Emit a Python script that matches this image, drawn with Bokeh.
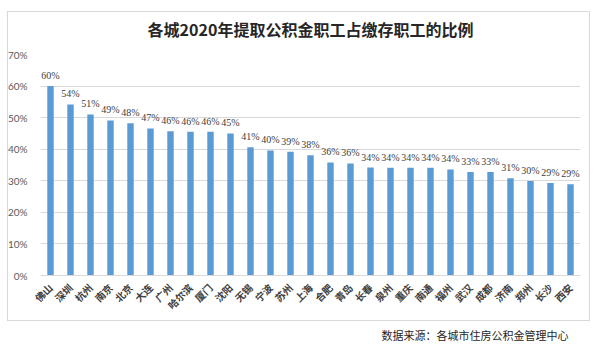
import math
from bokeh.plotting import figure
from bokeh.models import ColumnDataSource, Range1d, FactorRange, Title, NumeralTickFormatter, FixedTicker, LabelSet, InlineStyleSheet
from bokeh.embed import file_html
from bokeh.resources import INLINE

cities = ["佛山", "深圳", "杭州", "南京", "北京", "大连", "广州", "哈尔滨", "厦门", "沈阳",
          "无锡", "宁波", "苏州", "上海", "合肥", "青岛", "长春", "泉州", "重庆", "南通",
          "福州", "武汉", "成都", "济南", "郑州", "长沙", "西安"]
ratios = [0.600, 0.542, 0.510, 0.491, 0.482, 0.466, 0.457, 0.455, 0.455, 0.450,
          0.406, 0.396, 0.392, 0.381, 0.358, 0.355, 0.342, 0.341, 0.341, 0.341,
          0.336, 0.328, 0.328, 0.308, 0.299, 0.293, 0.289]
value_labels = ["60%", "54%", "51%", "49%", "48%", "47%", "46%", "46%", "46%", "45%",
                "41%", "40%", "39%", "38%", "36%", "36%", "34%", "34%", "34%", "34%",
                "34%", "33%", "33%", "31%", "30%", "29%", "29%"]
y_ticks = [0, 0.1, 0.2, 0.3, 0.4, 0.5, 0.6, 0.7]
title_text = "各城2020年提取公积金职工占缴存职工的比例"
source_text = "数据来源：各城市住房公积金管理中心"

src = ColumnDataSource(dict(city=cities, ratio=ratios, lab=value_labels))

p = figure(width=600, height=347, x_range=FactorRange(factors=cities, range_padding=0),
           y_range=Range1d(0, 0.7), output_backend="svg", toolbar_location=None,
           min_border_left=40, min_border_right=20, min_border_top=53, min_border_bottom=72)
p.outline_line_color = None
p.background_fill_color = "white"
p.border_fill_color = "white"

# light grey chart-area border (drawn by CSS, purely decorative)
p.stylesheets = [InlineStyleSheet(css="""
:host::after {
  content: "";
  position: absolute;
  left: 7px; top: 11px;
  width: 583px; height: 310px;
  border: 1px solid #D9D9D9;
  pointer-events: none;
  box-sizing: border-box;
}
""")]

p.title = Title(text=title_text, align="center", text_font="Noto Sans CJK SC",
                text_font_style="bold", text_font_size="16px", text_color="#262626",
                standoff=28)

p.vbar(x="city", top="ratio", width=0.32, source=src, fill_color="#5B9BD5", line_color=None)

labels = LabelSet(x="city", y="ratio", text="lab", source=src, text_align="center",
                  text_baseline="bottom", y_offset=5, text_font_size="10px",
                  text_color="#404040", text_font="Lato")
p.add_layout(labels)

p.yaxis.ticker = FixedTicker(ticks=y_ticks)
p.yaxis.formatter = NumeralTickFormatter(format="0%")
p.yaxis.axis_line_color = None
p.yaxis.major_tick_line_color = None
p.yaxis.minor_tick_line_color = None
p.yaxis.major_label_text_font_size = "10px"
p.yaxis.major_label_text_color = "#595959"
p.yaxis.major_label_text_font = "Lato"
p.yaxis.major_label_standoff = 7

p.xaxis.axis_line_color = "#D9D9D9"
p.xaxis.major_tick_line_color = None
p.xaxis.minor_tick_line_color = None
p.xaxis.major_label_orientation = math.pi / 4
p.xaxis.major_label_text_font_size = "10px"
p.xaxis.major_label_text_font = "Noto Sans CJK SC"
p.xaxis.major_label_text_font_style = "bold"
p.xaxis.major_label_text_color = "#404040"
p.xaxis.major_label_standoff = 4

p.xgrid.grid_line_color = None
p.ygrid.grid_line_color = "#D9D9D9"

p.add_layout(Title(text=source_text, align="right", text_font="Noto Sans CJK SC",
                   text_font_style="normal", text_font_size="11px", text_color="#262626",
                   offset=12, standoff=9), "below")

open("out.html", "w").write(file_html(p, INLINE))
